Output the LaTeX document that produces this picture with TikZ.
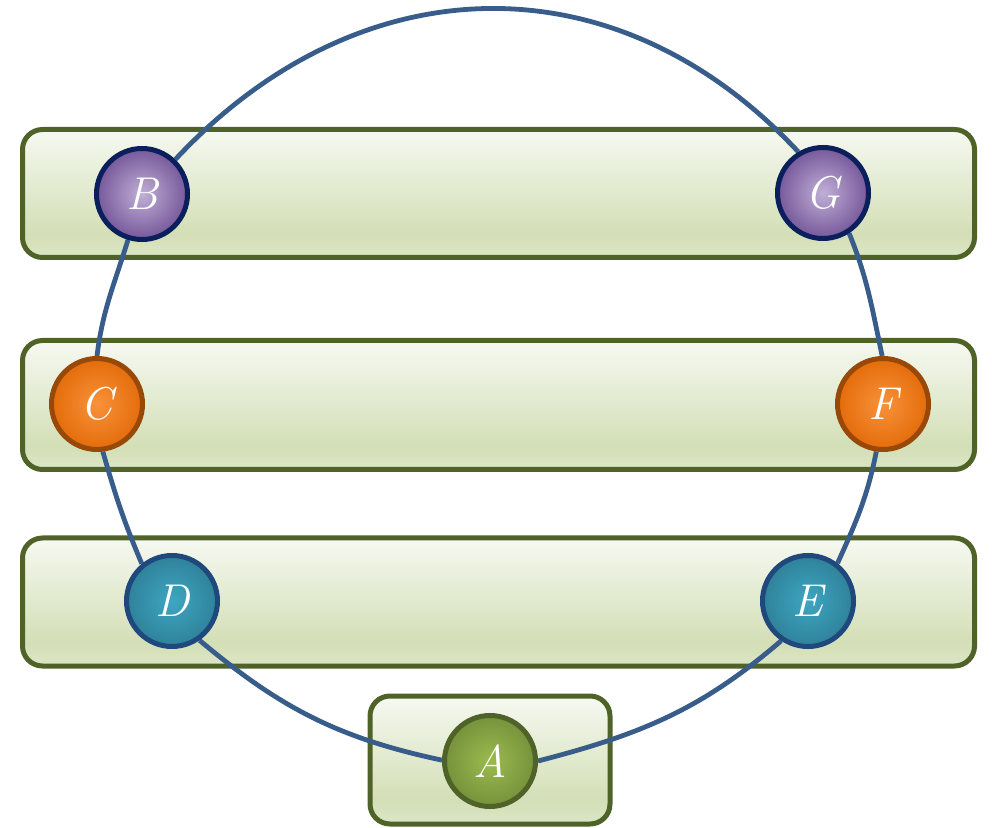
\documentclass[tikz,border=0pt]{standalone}
\usetikzlibrary{backgrounds}
\definecolor{bandborder}{HTML}{4F6228}
\definecolor{bandT}{HTML}{F6F9F1}
\definecolor{bandM}{HTML}{D3DFB6}
\definecolor{bandB}{HTML}{DCE6C7}
\definecolor{ringc}{HTML}{385D8A}
\definecolor{purI}{HTML}{C0AFD6}
\definecolor{purO}{HTML}{76589A}
\definecolor{purB}{HTML}{0B1F5C}
\definecolor{orI}{HTML}{F8923A}
\definecolor{orO}{HTML}{E46C0A}
\definecolor{orB}{HTML}{984807}
\definecolor{tlI}{HTML}{3EA6C2}
\definecolor{tlO}{HTML}{2F8299}
\definecolor{tlB}{HTML}{1F497D}
\definecolor{grI}{HTML}{9BBB4E}
\definecolor{grO}{HTML}{76923C}
\definecolor{grB}{HTML}{4F6228}
\pgfdeclareverticalshading{bandshade}{100bp}{color(0bp)=(bandB); color(25bp)=(bandB); color(34bp)=(bandM); color(75bp)=(bandT); color(100bp)=(bandT)}
\begin{document}
\begin{tikzpicture}[x=1pt,y=1pt,
  vnode/.style={circle, minimum size=91pt, inner sep=0pt, line width=5pt, text=white,
    font=\fontsize{46}{46}\selectfont\itshape},
  purplenode/.style={vnode, draw=purB, inner color=purI, outer color=purO},
  orangenode/.style={vnode, draw=orB, inner color=orI, outer color=orO},
  tealnode/.style={vnode, draw=tlB, inner color=tlI, outer color=tlO},
  greennode/.style={vnode, draw=grB, inner color=grI, outer color=grO},
  band/.style={draw=bandborder, line width=5pt, rounded corners=20pt, shade, shading=bandshade},
  ring/.style={draw=ringc, line width=4.8pt}]
\useasboundingbox (0,0) rectangle (992,827);

\node[greennode]  (A) at (490,66)  {A};
\node[purplenode] (B) at (142,633) {B};
\node[orangenode] (C) at (97,423)  {C};
\node[tealnode]   (D) at (172,226) {D};
\node[tealnode]   (E) at (808,226) {E};
\node[orangenode] (F) at (883,423) {F};
\node[purplenode] (G) at (823,634) {G};

\begin{pgfonlayer}{background}
  \path[band] (22.5,569.5) rectangle (974.5,697.5);
  \path[band] (22.5,357.5) rectangle (974.5,486.5);
  \path[band] (22.5,161) rectangle (974.5,289);
  \path[band] (370,3) rectangle (610,131);

  \draw[ring] (B.46.6) to[out=47,in=133,looseness=1.1] (G.121);
  \draw[ring] (B.253) to[out=253,in=83] (C.90);
  \draw[ring] (C.277) to[out=-74,in=113] (D.129);
  \draw[ring] (D.-55.7) to[out=-40,in=168] (A.179);
  \draw[ring] (A.0) to[out=14.5,in=220.7] (E.236);
  \draw[ring] (E.52) to[out=65.7,in=258.7] (F.262);
  \draw[ring] (F.91) to[out=102,in=292] (G.-57);
\end{pgfonlayer}
\end{tikzpicture}
\end{document}
